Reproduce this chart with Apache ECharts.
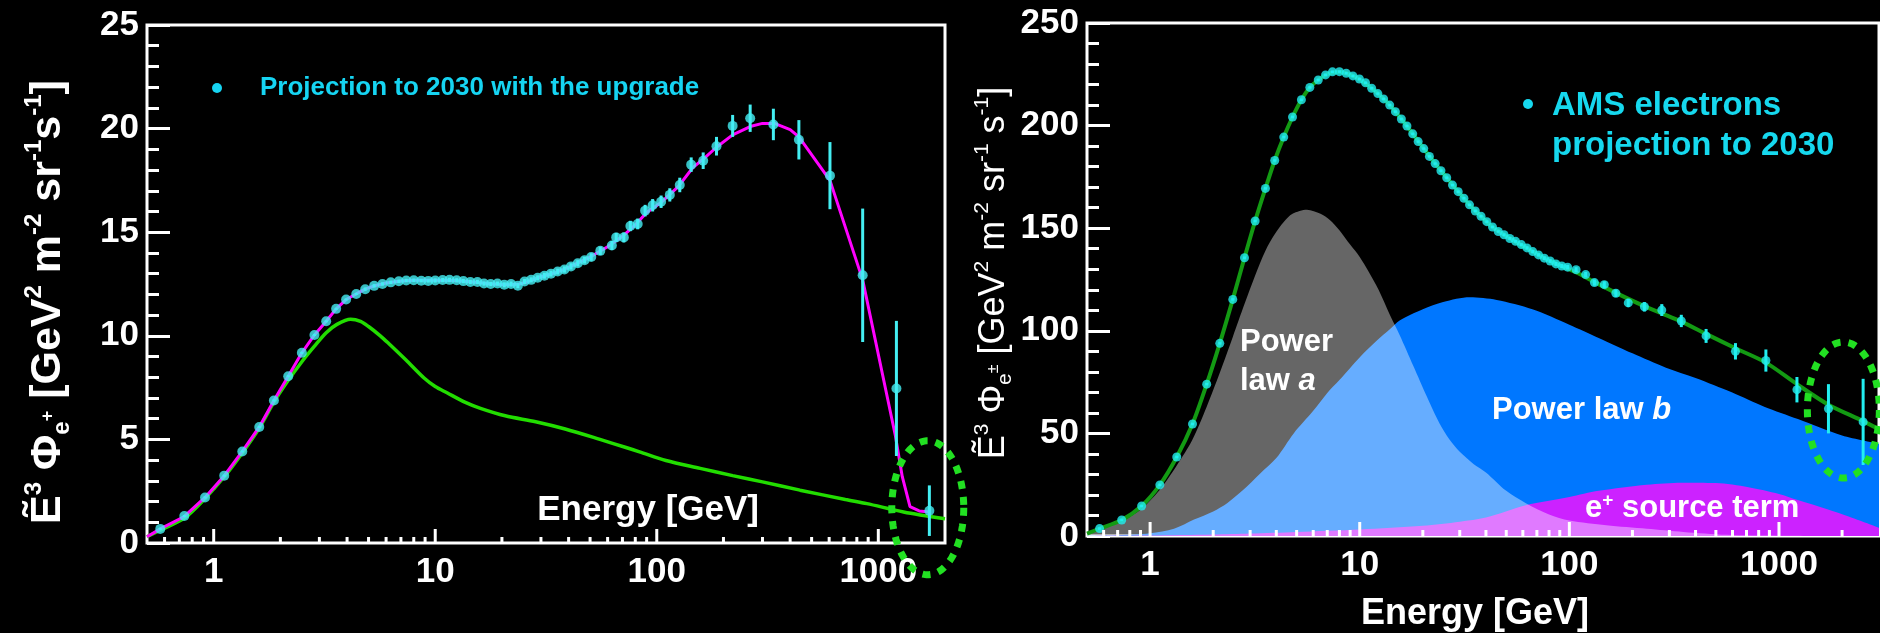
<!DOCTYPE html>
<html>
<head>
<meta charset="utf-8">
<script src="https://cdn.jsdelivr.net/npm/echarts@6/dist/echarts.min.js"></script>
<style>
  html, body { margin: 0; padding: 0; background: #000; }
  #chart { width: 1880px; height: 633px; }
</style>
</head>
<body>
<div id="chart"></div>
<script>
// ---------- Positron flux (left panel) ----------
const posE = [0.574, 0.737, 0.914, 1.116, 1.346, 1.606, 1.87, 2.17, 2.5, 2.85, 3.22, 3.57, 3.96, 4.4, 4.83,
  5.3, 5.78, 6.3, 6.85, 7.4, 8.0, 8.65, 9.3, 10.0, 10.8, 11.6, 12.5, 13.4, 14.4, 15.5, 16.6, 17.8, 19.1, 20.5, 22.0,
  23.6, 25.3, 27.1, 29.0, 31.1, 33.3, 35.7, 38.3, 41.0, 44.0, 47.2, 50.6, 55.6, 62.7, 65.6, 71, 76, 82, 88.6, 95.8,
  104.6, 114.5, 127, 143, 162, 186, 220, 264, 336, 438, 605, 850, 1207, 1700];
const posV = [0.68, 1.3, 2.2, 3.25, 4.42, 5.6, 6.88, 8.05, 9.18, 10.04, 10.7, 11.3, 11.75, 12.02, 12.25,
  12.41, 12.5, 12.58, 12.63, 12.67, 12.68, 12.66, 12.65, 12.67, 12.69, 12.7, 12.68, 12.64, 12.6, 12.6, 12.52, 12.5, 12.52, 12.46, 12.5,
  12.42, 12.62, 12.7, 12.8, 12.9, 13.0, 13.1, 13.2, 13.35, 13.5, 13.65, 13.8, 14.1, 14.36, 14.75, 14.75, 15.3, 15.4, 16.04, 16.3,
  16.47, 16.8, 17.28, 18.26, 18.45, 19.15, 20.13, 20.5, 20.2, 19.46, 17.73, 12.92, 7.46, 1.56];
const posErr = [0.05, 0.05, 0.05, 0.05, 0.05, 0.05, 0.05, 0.05, 0.05, 0.05, 0.05, 0.05, 0.05, 0.05, 0.08,
  0.08, 0.08, 0.08, 0.08, 0.08, 0.08, 0.08, 0.08, 0.1, 0.1, 0.1, 0.1, 0.1, 0.1, 0.1, 0.1, 0.1, 0.1, 0.12, 0.12,
  0.12, 0.12, 0.12, 0.12, 0.14, 0.14, 0.14, 0.15, 0.15, 0.15, 0.16, 0.18, 0.2, 0.22, 0.22, 0.24, 0.25, 0.26, 0.28, 0.3,
  0.3, 0.32, 0.35, 0.35, 0.4, 0.45, 0.53, 0.66, 0.76, 0.95, 1.62, 3.22, 3.26, 1.22];

// total model (magenta)
const posFitE = [0.5, 0.574, 0.737, 0.914, 1.116, 1.346, 1.606, 1.87, 2.17, 2.5, 2.85, 3.22, 3.57, 3.96, 4.4, 4.83, 5.3, 6, 7, 8,
  10, 12, 14, 17, 20, 22, 24, 26, 30, 35, 40, 50, 60, 70, 80, 90, 105, 125, 145, 165, 186, 220, 264, 300, 340, 400, 438,
  605, 850, 1193, 1283, 1390, 1530, 1700];
const posFitV = [0.3, 0.68, 1.28, 2.2, 3.25, 4.42, 5.6, 6.88, 8.05, 9.18, 10.04, 10.7, 11.3, 11.75, 12.02, 12.25, 12.41, 12.55, 12.64, 12.68,
  12.68, 12.67, 12.62, 12.53, 12.48, 12.46, 12.5, 12.6, 12.85, 13.05, 13.3, 13.8, 14.3, 14.8, 15.35, 15.95, 16.45, 17.2, 18.1, 18.6, 19.1, 19.7, 20.1, 20.25, 20.25, 19.95, 19.6,
  17.5, 12.7, 5.2, 3.2, 1.75, 1.55, 1.5];

// diffuse term (green)
const posDiffE = [0.5, 0.574, 0.737, 0.914, 1.116, 1.346, 1.606, 1.87, 2.17, 2.5, 2.85, 3.22, 3.6, 4.15, 4.6, 5.0, 5.65, 6.15,
  7.38, 8.93, 10, 11.3, 13.6, 16, 20.7, 28.4, 38.6, 55.4, 72, 83.6, 110, 157, 220, 300, 443, 710, 888, 1300, 2000];
const posDiffV = [0.3, 0.62, 1.2, 2.15, 3.2, 4.35, 5.55, 6.8, 7.85, 8.75, 9.5, 10.15, 10.55, 10.8, 10.7, 10.45, 10.0, 9.64,
  8.83, 7.95, 7.55, 7.25, 6.8, 6.5, 6.14, 5.85, 5.5, 5.0, 4.62, 4.4, 3.98, 3.6, 3.25, 2.95, 2.55, 2.1, 1.9, 1.5, 1.17];

// ---------- Electron flux (right panel) ----------
const eleE = [0.574, 0.732, 0.911, 1.113, 1.34, 1.593, 1.862, 2.15, 2.48, 2.82, 3.17, 3.55, 3.93, 4.34, 4.78, 5.27, 5.78, 6.34,
  6.87, 7.41, 8.0, 8.62, 9.28, 9.97, 10.66, 11.4, 12.2, 13.0, 13.9, 14.8, 15.8, 16.8, 17.9, 19.0, 20.2, 21.5, 22.9, 24.4,
  26.0, 27.7, 29.5, 31.4, 33.4, 35.6, 37.9, 40.4, 43.0, 45.8, 48.8, 52.0, 55.4, 59.0, 62.8, 66.9, 71.3, 76.0, 81.0, 86.3,
  92.0, 98.1, 107.7, 119.6, 131.7, 146.8, 166.7, 191, 228, 276, 342, 449, 620, 866, 1218, 1722, 2520];
const eleV = [3.6, 7.8, 14.6, 24.9, 38.5, 54.6, 74, 93.9, 115.3, 135.6, 153.5, 169.4, 183, 194.4, 204.2, 212.6, 218.6, 222.2,
  224.7, 226.2, 226.3, 225.5, 224.2, 222.7, 220.9, 218.2, 215.6, 213, 210, 206.8, 203.2, 199.8, 196, 192.2, 188.8, 185, 181.5, 178,
  174.6, 171, 167.8, 164.6, 161.4, 158.4, 155.8, 153.2, 150.6, 148.4, 146.8, 145, 143.6, 142, 140.4, 138.6, 137, 135.4, 134, 132.6,
  131.6, 131, 129.8, 127.4, 123.5, 122.5, 118.3, 113.6, 111.7, 110.1, 104.8, 97.5, 90, 85.5, 71.3, 62, 55.6];
const eleErr = [0.6, 0.6, 0.6, 0.6, 0.6, 0.6, 0.6, 0.6, 0.6, 0.6, 0.6, 0.6, 0.6, 0.6, 0.6, 0.6, 0.6, 0.6,
  0.6, 0.6, 0.6, 0.6, 0.6, 0.6, 0.6, 0.6, 0.6, 0.6, 0.6, 0.6, 0.6, 0.6, 0.6, 0.6, 0.6, 0.6, 0.6, 0.6,
  0.6, 0.6, 0.6, 0.6, 0.6, 0.6, 0.6, 0.6, 0.6, 0.6, 0.7, 0.7, 0.7, 0.7, 0.8, 0.8, 0.8, 0.9, 0.9, 1.0,
  1.0, 1.1, 1.2, 1.3, 1.5, 1.6, 1.8, 2.0, 2.3, 2.9, 3.0, 3.4, 4.0, 5.4, 6.2, 12, 21];

// total fit (dark green)
const eleFitE = [0.5, 0.574, 0.732, 0.911, 1.113, 1.34, 1.593, 1.862, 2.15, 2.48, 2.82, 3.17, 3.55, 3.93, 4.34, 4.78, 5.27, 5.78,
  6.34, 6.87, 7.41, 8.0, 8.62, 9.28, 10, 11, 12.2, 13.9, 15.8, 17.9, 20.2, 22.9, 26, 29.5, 33.4, 37.9, 43, 48.8, 55.4, 62.8,
  71.3, 81, 92, 107.7, 131.7, 166.7, 228, 276, 342, 449, 620, 866, 1218, 1722, 2520, 3000];
const eleFitV = [1.2, 3.6, 7.8, 14.6, 24.9, 38.5, 54.6, 74, 93.9, 115.3, 135.6, 153.5, 169.4, 183, 194.4, 204.2, 212.6, 218.6,
  222.2, 224.7, 225.9, 226.1, 225.5, 224.2, 222.5, 219.5, 215.6, 210, 203.2, 196, 188.8, 181.5, 174.6, 167.8, 161.4, 155.8, 150.6, 146.8, 143.4, 140.2,
  137, 134, 131.5, 128.5, 123.8, 118.5, 112, 108.5, 104.5, 98.5, 91.5, 84.5, 74, 64, 56, 52];

// fit components
const lawAE = [0.5, 0.574, 0.732, 0.911, 1.113, 1.34, 1.593, 1.862, 2.15, 2.48, 2.82, 3.17, 3.55, 3.93, 4.34, 4.78, 5.6, 6.5,
  7.2, 8, 9, 10, 11, 12.3, 13.9, 15.5, 18, 20.9, 24, 26.8, 30, 35, 40, 50, 62, 80, 100, 150, 234, 350, 560, 1000, 3000];
const lawAV = [1.0, 3.3, 7.2, 13.3, 22.5, 34.3, 47, 63, 79.5, 97, 113, 127, 139, 147, 153, 157, 159, 157,
  154, 149, 142, 136, 129, 120, 108, 98, 83, 68, 55, 47, 41, 35, 31, 22, 16, 10.5, 7.5, 5.2, 3.5, 2, 0.6, 0.15, 0];
const lawBE = [0.5, 0.7, 1, 1.3, 1.62, 2, 2.33, 2.75, 3.36, 4, 4.84, 6, 6.97, 8, 10.06, 12, 14, 15.5, 20, 25, 33.5, 45,
  66.6, 100, 138, 200, 289, 400, 595, 850, 1231, 2000, 3000];
const lawBV = [0.1, 0.4, 1.3, 3.5, 8, 12, 16, 22, 30.6, 38, 50, 61, 69.5, 76, 87.4, 95, 101, 105, 110.5, 114, 116.3, 115,
  110.5, 103, 96.5, 89, 82, 77, 70, 63, 57, 49, 45];
const srcE = [0.5, 1, 2, 3, 5, 10, 20, 30, 40, 62, 100, 138, 234, 345, 500, 715, 1000, 1230, 1700, 2150, 3000];
const srcV = [0, 0.2, 0.7, 1.2, 2, 3.2, 5, 7, 9, 15, 19, 22, 25, 26, 25.8, 23.8, 20.5, 17.5, 13, 9.5, 4];

// ---------- axis ticks ----------
const tickDecades = [0.1, 1, 10, 100, 1000];
const tickSteps = [1, 2, 3, 4, 5, 6, 7, 8, 9];

const pair = (xs, ys) => xs.map((x, i) => [x, ys[i]]);
const triple = (xs, ys, es) => xs.map((x, i) => [x, ys[i], es[i]]);
function logTicks(lo, hi) {
  const out = [];
  tickDecades.forEach(d => tickSteps.forEach(k => {
    const v = +(d * k).toPrecision(3);
    if (v > lo && v < hi) out.push([v, k === 1 ? 1 : 0]);
  }));
  return out;
}

const FONT = 'Liberation Sans, Arial, Helvetica, sans-serif';
const WHITE = '#ffffff';

function tickItem(params, api) {
  const p = api.coord([api.value(0), 0]);
  const len = api.value(1) ? 14 : 6;
  return { type: 'line', shape: { x1: p[0], y1: p[1], x2: p[0], y2: p[1] - len },
    style: { stroke: WHITE, lineWidth: 3 } };
}
function errItem(color) {
  return function (params, api) {
    const e = api.value(0), v = api.value(1), s = api.value(2);
    const a = api.coord([e, v - s]), b = api.coord([e, v + s]);
    return { type: 'line', shape: { x1: a[0], y1: a[1], x2: b[0], y2: b[1] },
      style: { stroke: color, lineWidth: 3 } };
  };
}
function ringItem(rx, ry) {
  return function (params, api) {
    const c = api.coord([api.value(0), api.value(1)]);
    const pts = [];
    for (let i = 0; i < 90; i++) {
      const t = i / 90 * Math.PI * 2;
      pts.push([c[0] + rx * Math.cos(t), c[1] + ry * Math.sin(t)]);
    }
    return { type: 'polygon', shape: { points: pts },
      style: { fill: 'none', stroke: '#22e022', lineWidth: 7, lineDash: [8, 8] } };
  };
}

function logAxis(grid, max) {
  return {
    type: 'log', logBase: 10, gridIndex: grid, min: 0.5, max: max,
    axisLine: { show: false }, axisTick: { show: false }, splitLine: { show: false },
    axisLabel: { color: WHITE, fontSize: 35, fontWeight: 'bold', fontFamily: FONT, margin: 12,
      showMinLabel: false, showMaxLabel: false,
      formatter: v => String(+(+v).toPrecision(6)) }
  };
}
function valAxis(grid, max, interval) {
  return {
    type: 'value', gridIndex: grid, min: 0, max: max, interval: interval,
    axisLine: { show: false }, splitLine: { show: false },
    axisTick: { show: true, inside: true, length: 23, lineStyle: { color: WHITE, width: 3 } },
    minorTick: { show: true, splitNumber: 5, length: 12, lineStyle: { color: WHITE, width: 3 } },
    axisLabel: { color: WHITE, fontSize: 35, fontWeight: 'bold', fontFamily: FONT, margin: 8 }
  };
}

const titleLeft = {
  type: 'text', x: 48, y: 302, rotation: Math.PI / 2, z: 100,
  style: {
    text: '{m|Ẽ}{s|3}{m| Φ}{b|e}{p|+}{m| [GeV}{s|2}{m| m}{s|-2}{m| sr}{s|-1}{m|s}{s|-1}{m|]}',
    align: 'center', verticalAlign: 'middle', textAlign: 'center', textVerticalAlign: 'middle', fill: WHITE,
    rich: {
      m: { fontSize: 43, fontWeight: 'bold', fill: WHITE, lineHeight: 52, fontFamily: FONT },
      s: { fontSize: 24, fontWeight: 'bold', fill: WHITE, verticalAlign: 'top', lineHeight: 24, fontFamily: FONT },
      b: { fontSize: 24, fontWeight: 'bold', fill: WHITE, verticalAlign: 'bottom', lineHeight: 24, fontFamily: FONT },
      p: { fontSize: 18, fontWeight: 'bold', fill: WHITE, verticalAlign: 'middle', lineHeight: 18, fontFamily: FONT }
    }
  }
};
const titleRight = {
  type: 'text', x: 994, y: 273, rotation: Math.PI / 2, z: 100,
  style: {
    text: '{m|Ẽ}{s|3}{m| Φ}{b|e}{p|±}{m| [GeV}{s|2}{m| m}{s|-2}{m| sr}{s|-1}{m| s}{s|-1}{m|]}',
    align: 'center', verticalAlign: 'middle', textAlign: 'center', textVerticalAlign: 'middle', fill: WHITE,
    rich: {
      m: { fontSize: 36, fill: WHITE, lineHeight: 44, fontFamily: FONT },
      s: { fontSize: 21, fill: WHITE, verticalAlign: 'top', lineHeight: 21, fontFamily: FONT },
      b: { fontSize: 21, fill: WHITE, verticalAlign: 'bottom', lineHeight: 21, fontFamily: FONT },
      p: { fontSize: 16, fill: WHITE, verticalAlign: 'middle', lineHeight: 16, fontFamily: FONT }
    }
  }
};

function label(x, y, text, size, color, align, rich) {
  return { type: 'text', x: x, y: y, z: 100,
    style: { text: text, fill: color, fontSize: size, fontWeight: 'bold', fontFamily: FONT,
      align: align || 'left', textAlign: align || 'left', verticalAlign: 'middle', textVerticalAlign: 'middle',
      rich: rich } };
}
const annRich = {
  n: { fontSize: 31, fontWeight: 'bold', fill: WHITE, fontFamily: FONT, lineHeight: 34 },
  i: { fontSize: 31, fontWeight: 'bold', fontStyle: 'italic', fill: WHITE, fontFamily: FONT, lineHeight: 34 },
  u: { fontSize: 19, fontWeight: 'bold', fill: WHITE, verticalAlign: 'top', lineHeight: 19, fontFamily: FONT }
};

const chart = echarts.init(document.getElementById('chart'), null, { renderer: 'canvas' });
chart.setOption({
  backgroundColor: '#000',
  animation: false,
  textStyle: { fontFamily: FONT },
  grid: [
    { left: 147, top: 25, width: 798, height: 518, show: true, borderColor: WHITE, borderWidth: 3, backgroundColor: 'transparent' },
    { left: 1087, top: 23, width: 792, height: 513, show: true, borderColor: WHITE, borderWidth: 3, backgroundColor: 'transparent' }
  ],
  xAxis: [logAxis(0, 2000), logAxis(1, 3000)],
  yAxis: [valAxis(0, 25, 5), valAxis(1, 250, 50)],
  series: [
    // ----- left -----
    { type: 'custom', xAxisIndex: 0, yAxisIndex: 0, renderItem: tickItem, data: logTicks(0.5, 2000), z: 5, silent: true },
    { type: 'line', xAxisIndex: 0, yAxisIndex: 0, data: pair(posDiffE, posDiffV), symbol: 'none', smooth: 0.3,
      lineStyle: { color: '#22dd00', width: 3.5 }, z: 2 },
    { type: 'line', xAxisIndex: 0, yAxisIndex: 0, data: pair(posFitE, posFitV), symbol: 'none', smooth: false,
      lineStyle: { color: '#ff00ff', width: 3 }, z: 3 },
    { type: 'custom', xAxisIndex: 0, yAxisIndex: 0, renderItem: errItem('#44eef2'),
      data: triple(posE, posV, posErr), encode: { x: 0, y: 1 }, z: 4 },
    { type: 'scatter', xAxisIndex: 0, yAxisIndex: 0, data: pair(posE, posV), symbol: 'circle', symbolSize: 10,
      itemStyle: { color: '#44eef2' }, z: 4 },
    { type: 'custom', xAxisIndex: 0, yAxisIndex: 0, renderItem: ringItem(36, 67), data: [[1672, 1.7]],
      clip: false, z: 6, silent: true },

    // ----- right -----
    { type: 'line', xAxisIndex: 1, yAxisIndex: 1, data: pair(lawBE, lawBV), symbol: 'none', smooth: 0.3,
      lineStyle: { width: 0 }, areaStyle: { color: '#0077ff', opacity: 1 }, z: 1 },
    { type: 'line', xAxisIndex: 1, yAxisIndex: 1, data: pair(srcE, srcV), symbol: 'none', smooth: 0.3,
      lineStyle: { width: 0 }, areaStyle: { color: '#cc22ff', opacity: 1 }, z: 1 },
    { type: 'line', xAxisIndex: 1, yAxisIndex: 1, data: pair(lawAE, lawAV), symbol: 'none', smooth: 0.3,
      lineStyle: { width: 0 }, areaStyle: { color: 'rgba(255,255,255,0.4)', opacity: 1 }, z: 1 },
    { type: 'custom', xAxisIndex: 1, yAxisIndex: 1, renderItem: tickItem, data: logTicks(0.5, 3000), z: 5, silent: true },
    { type: 'line', xAxisIndex: 1, yAxisIndex: 1, data: pair(eleFitE, eleFitV), symbol: 'none', smooth: 0.3,
      lineStyle: { color: '#139a13', width: 4 }, z: 3 },
    { type: 'custom', xAxisIndex: 1, yAxisIndex: 1, renderItem: errItem('#22eef0'),
      data: triple(eleE, eleV, eleErr), encode: { x: 0, y: 1 }, z: 4 },
    { type: 'scatter', xAxisIndex: 1, yAxisIndex: 1, data: pair(eleE, eleV), symbol: 'circle', symbolSize: 9,
      itemStyle: { color: '#22eef0' }, z: 4 },
    { type: 'custom', xAxisIndex: 1, yAxisIndex: 1, renderItem: ringItem(36, 68), data: [[2028, 61.4]],
      clip: false, z: 6, silent: true }
  ],
  graphic: [
    titleLeft,
    titleRight,
    { type: 'circle', z: 100, shape: { cx: 217, cy: 88, r: 5 }, style: { fill: '#16d4f2' } },
    label(260, 88, 'Projection to 2030 with the upgrade', 26, '#16d4f2'),
    label(759, 510, 'Energy [GeV]', 35, WHITE, 'right'),
    label(1475, 614, 'Energy [GeV]', 36, WHITE, 'center'),
    { type: 'circle', z: 100, shape: { cx: 1528, cy: 104, r: 5 }, style: { fill: '#16d8ee' } },
    label(1552, 106, 'AMS electrons', 33, '#16d8ee'),
    label(1552, 146, 'projection to 2030', 33, '#16d8ee'),
    label(1240, 342, '{n|Power}', 31, WHITE, 'left', annRich),
    label(1240, 381, '{n|law }{i|a}', 31, WHITE, 'left', annRich),
    label(1492, 410, '{n|Power law }{i|b}', 31, WHITE, 'left', annRich),
    label(1585, 508, '{n|e}{u|+}{n| source term}', 31, WHITE, 'left', annRich)
  ]
});
</script>
</body>
</html>
